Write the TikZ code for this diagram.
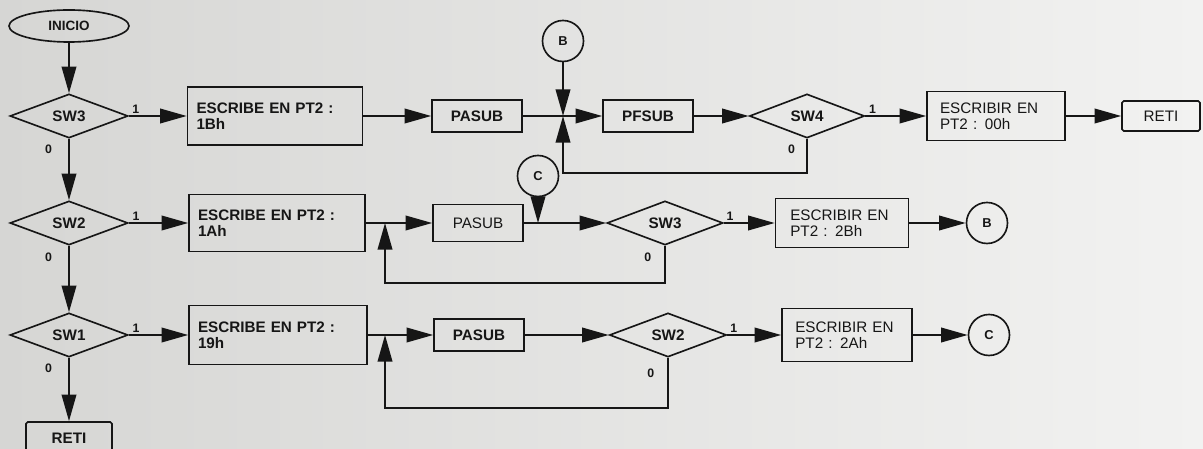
\documentclass[tikz,border=0pt]{standalone}
\usepackage{fontspec}
\setmainfont{Liberation Sans}
\usetikzlibrary{arrows.meta,shapes.geometric}
\definecolor{Ink}{RGB}{22,22,22}
\definecolor{PaperDark}{RGB}{214,214,212}
\definecolor{PaperLight}{RGB}{242,242,241}
\tikzset{
  start/.style={ellipse, draw=Ink, line width=1.4pt, minimum width=36mm, minimum height=9.6mm,
    inner sep=0pt, text=Ink, font=\fontsize{11.5}{12}\selectfont\bfseries},
  sw/.style={diamond, aspect=2.7, draw=Ink, line width=1.4pt, minimum width=35.4mm, minimum height=13.2mm,
    inner sep=0pt, text=Ink, font=\fontsize{13}{14}\selectfont\bfseries},
  wr/.style={rectangle, draw=Ink, line width=1.4pt, align=left, inner ysep=0pt, text=Ink,
    font=\fontsize{13}{14}\selectfont\bfseries},
  wrlt/.style={wr, font=\fontsize{13}{14}\selectfont},
  sub/.style={rectangle, draw=Ink, line width=1.4pt, minimum width=27mm, minimum height=9.6mm,
    inner sep=0pt, text=Ink, font=\fontsize{13}{14}\selectfont\bfseries},
  subl/.style={sub, font=\fontsize{13}{14}\selectfont},
  fin/.style={rectangle, rounded corners=1.5pt, draw=Ink, line width=1.4pt, minimum height=9mm,
    inner sep=0pt, text=Ink, font=\fontsize{13}{14}\selectfont},
  finb/.style={fin, font=\fontsize{13}{14}\selectfont\bfseries},
  conn/.style={circle, draw=Ink, line width=1.4pt, minimum size=12.3mm, inner sep=0pt, text=Ink,
    font=\fontsize{11}{12}\selectfont\bfseries},
  lbl/.style={font=\fontsize{10.5}{11}\selectfont\bfseries, text=Ink, inner sep=1pt},
  flowarr/.style={-{Triangle[length=8mm,width=4.4mm]}, draw=Ink, line width=1.5pt},
  wire/.style={draw=Ink, line width=1.5pt},
}
\begin{document}
\begin{tikzpicture}[x=0.3mm,y=-0.3mm]
\useasboundingbox (0,0) rectangle (1203,449);
\shade[left color=PaperDark, right color=PaperLight] (0,0) rectangle (1203,449);

% ---------------- column of switch tests ----------------
\node[start] (ini) at (69,26) {INICIO};
\node[sw] (sw3) at (69,116) {SW3};
\node[sw] (sw2) at (69,223) {SW2};
\node[sw] (sw1) at (69,335) {SW1};
\node[finb, minimum width=25.8mm, minimum height=9.6mm] (reti0) at (69,438) {RETI};

\draw[flowarr] (ini) -- (sw3);
\draw[flowarr] (sw3) -- node[lbl, pos=0.17, left=4.5mm]{0} (sw2);
\draw[flowarr] (sw2) -- node[lbl, pos=0.17, left=4.5mm]{0} (sw1);
\draw[flowarr] (sw1) -- node[lbl, pos=0.17, left=4.5mm]{0} (reti0);

% ---------------- row 1 : SW3 ----------------
\node[wr, text width=47.1mm, inner xsep=2.7mm, minimum height=17.4mm] (p1) at (275,116) {ESCRIBE EN PT2 :\\1Bh};
\node[sub] (pa1) at (477,116) {PASUB};
\coordinate (j1) at (563,116);
\node[conn] (b1) at (563,41) {B};
\node[sub] (pf1) at (648,116) {PFSUB};
\node[sw, minimum width=34.5mm] (sw4) at (807,116) {SW4};
\node[wrlt, text width=33.6mm, inner xsep=3.9mm, minimum height=14.7mm] (q1) at (996,116) {ESCRIBIR EN\\PT2 : 00h};
\node[fin, minimum width=23.4mm] (reti1) at (1161,116) {RETI};
\coordinate (r1) at (0,173);

\draw[flowarr] (sw3) -- node[lbl, pos=0.12, above]{1} (p1);
\draw[flowarr] (p1) -- (pa1);
\draw[wire] (pa1) -- (j1);
\draw[flowarr] (b1) -- (j1);
\draw[flowarr] (j1) -- (pf1);
\draw[flowarr] (pf1) -- (sw4);
\draw[flowarr] (sw4) -- node[lbl, pos=0.12, above]{1} (q1);
\draw[flowarr] (q1) -- (reti1);
\draw[flowarr] (sw4.south) -- node[lbl, pos=0.3, left=3mm]{0} (sw4.south |- r1) -| (j1);

% ---------------- row 2 : SW2 ----------------
\node[wr, text width=47.4mm, inner xsep=2.7mm, minimum height=17.1mm] (p2) at (277,223) {ESCRIBE EN PT2 :\\1Ah};
\coordinate (j2) at (385,223);
\node[subl, minimum height=11mm] (pa2) at (478,223) {PASUB};
\node[conn] (c1) at (538,176) {C};
\coordinate (k2) at (538,223);
\node[sw, minimum width=34.8mm] (sw3b) at (665,223) {SW3};
\node[wrlt, text width=31mm, inner xsep=4.45mm, minimum height=14.7mm] (q2) at (842,223) {ESCRIBIR EN\\PT2 : 2Bh};
\node[conn] (b2) at (987,223) {B};
\coordinate (r2) at (0,283);

\draw[flowarr] (sw2) -- node[lbl, pos=0.12, above]{1} (p2);
\draw[wire] (p2) -- (j2);
\draw[flowarr] (j2) -- (pa2);
\draw[flowarr] (pa2) -- (sw3b);
\draw[flowarr] (c1) -- (k2);
\draw[flowarr] (sw3b) -- node[lbl, pos=0.12, above]{1} (q2);
\draw[flowarr] (q2) -- (b2);
\draw[flowarr] (sw3b.south) -- node[lbl, pos=0.3, left=3.5mm]{0} (sw3b.south |- r2) -| (j2);

% ---------------- row 3 : SW1 ----------------
\node[wr, text width=48mm, inner xsep=2.7mm, minimum height=17.7mm] (p3) at (278,335) {ESCRIBE EN PT2 :\\19h};
\coordinate (j3) at (385,335);
\node[sub] (pa3) at (479,335) {PASUB};
\node[sw, minimum width=35.1mm] (sw2b) at (668,335) {SW2};
\node[wrlt, text width=31mm, inner xsep=4mm, minimum height=15.9mm] (q3) at (847,335) {ESCRIBIR EN\\PT2 : 2Ah};
\node[conn] (c2) at (989,335) {C};
\coordinate (r3) at (0,408);

\draw[flowarr] (sw1) -- node[lbl, pos=0.12, above]{1} (p3);
\draw[wire] (p3) -- (j3);
\draw[flowarr] (j3) -- (pa3);
\draw[flowarr] (pa3) -- (sw2b);
\draw[flowarr] (sw2b) -- node[lbl, pos=0.12, above]{1} (q3);
\draw[flowarr] (q3) -- (c2);
\draw[flowarr] (sw2b.south) -- node[lbl, pos=0.3, left=3.5mm]{0} (sw2b.south |- r3) -| (j3);

\end{tikzpicture}
\end{document}
